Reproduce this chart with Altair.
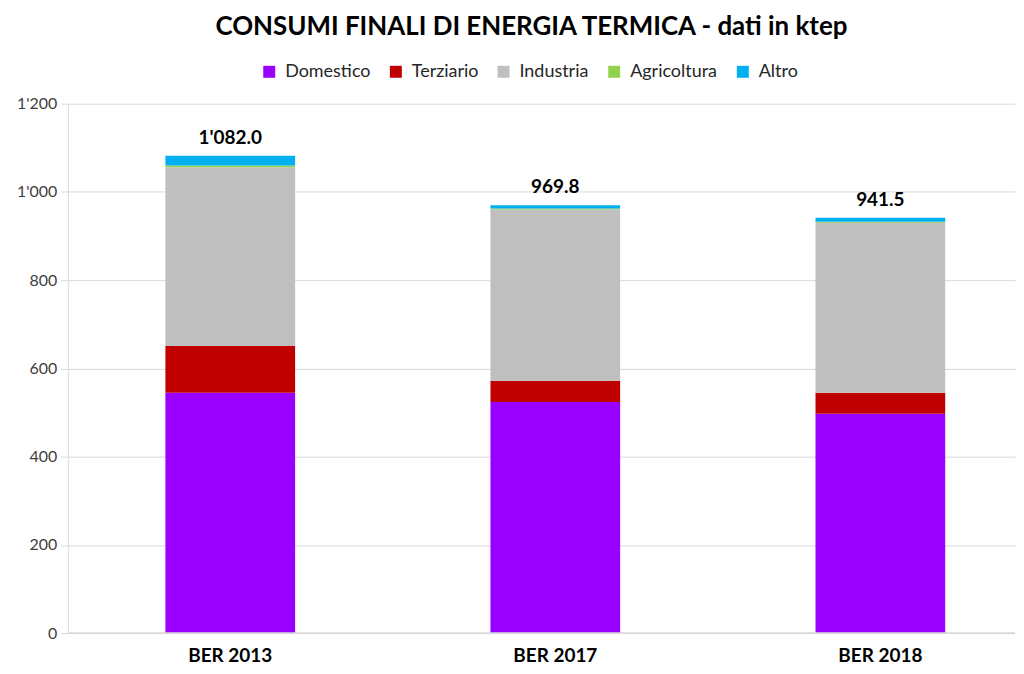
import altair as alt
import pandas as pd

categories = ["BER 2013", "BER 2017", "BER 2018"]
sectors = ["Domestico", "Terziario", "Industria", "Agricoltura", "Altro"]
colors = ["#9900FF", "#C00000", "#BFBFBF", "#92D050", "#00B0F0"]

domestico = [545.0, 524.0, 497.0]
terziario = [106.0, 48.0, 48.0]
industria = [405.0, 388.0, 385.0]
agricoltura = [4.0, 2.5, 2.5]
altro = [22.0, 7.3, 9.0]

series = [domestico, terziario, industria, agricoltura, altro]
rows = []
for si, (name, vals) in enumerate(zip(sectors, series)):
    for ci, cat in enumerate(categories):
        rows.append({"anno": cat, "settore": name, "valore": vals[ci], "ordine": si})
df = pd.DataFrame(rows)

FONT = "Lato"

base = alt.Chart(df)

bars = base.mark_bar().encode(
    x=alt.X("anno:N", sort=categories, title=None,
            scale=alt.Scale(paddingInner=0.601, paddingOuter=0.2575, align=0.583),
            axis=alt.Axis(labelAngle=0, labelFontSize=19, labelFontWeight="bold",
                          labelColor="#000000", labelFont=FONT, ticks=False,
                          domain=False, labelPadding=13, grid=False)),
    y=alt.Y("valore:Q", stack="zero", title=None,
            scale=alt.Scale(domain=[0, 1200], nice=False),
            axis=alt.Axis(values=[0, 200, 400, 600, 800, 1000, 1200],
                          labelExpr="replace(format(datum.value, ','), ',', \"'\")",
                          labelFontSize=16, labelColor="#404040", labelFont=FONT,
                          tickSize=7, tickColor="#D9D9D9", domainColor="#D9D9D9",
                          gridColor="#D9D9D9", labelPadding=4)),
    color=alt.Color("settore:N", sort=sectors,
                    scale=alt.Scale(domain=sectors, range=colors),
                    legend=alt.Legend(title=None, orient="none", direction="horizontal",
                                      legendX=193, legendY=-41,
                                      symbolType="square", symbolSize=144,
                                      symbolStrokeWidth=0,
                                      labelFontSize=18, labelFont=FONT,
                                      labelColor="#262626", columnPadding=16,
                                      labelOffset=7, symbolOffset=0)),
    order=alt.Order("ordine:Q", sort="ascending"),
)

labels = base.transform_aggregate(
    totale="sum(valore)", groupby=["anno"]
).transform_calculate(
    lab="replace(format(datum.totale, ',.1f'), ',', \"'\")"
).mark_text(dy=-12, baseline="alphabetic", fontSize=19, fontWeight="bold", font=FONT,
            color="#000000").encode(
    x=alt.X("anno:N", sort=categories),
    y=alt.Y("totale:Q"),
    text="lab:N",
)

bottom = alt.Chart(pd.DataFrame({"v": [0]})).mark_rule(color="#D9D9D9", strokeWidth=1.5).encode(
    y="v:Q"
)

chart = alt.layer(bars, bottom, labels).properties(
    width=950, height=531,
    padding={"left": 8, "top": 5, "right": 0, "bottom": 0},
    title=alt.TitleParams("CONSUMI FINALI DI ENERGIA TERMICA - dati in ktep",
                          fontSize=26, font=FONT, fontWeight="bold", color="#000000",
                          anchor="middle", dx=-10, offset=23),
).configure_view(stroke=None)

chart.save("out.html", embed_options={"renderer": "svg", "actions": False})
